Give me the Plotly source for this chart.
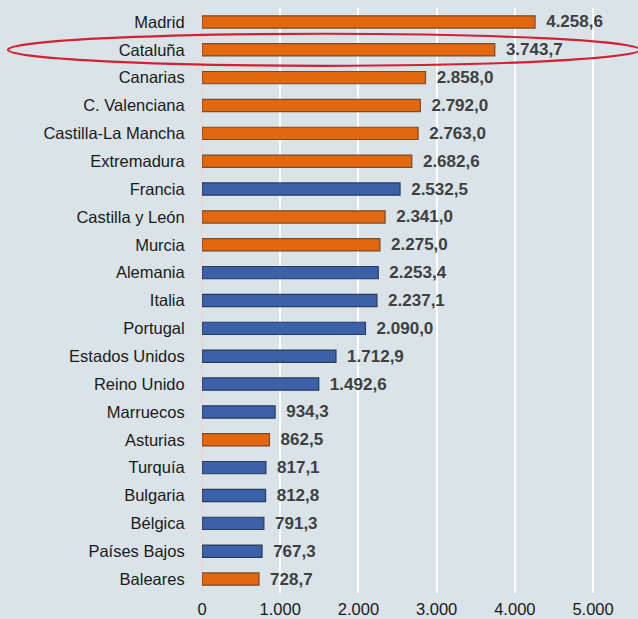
import plotly.graph_objects as go

categories = ["Madrid", "Cataluña", "Canarias", "C. Valenciana", "Castilla-La Mancha",
              "Extremadura", "Francia", "Castilla y León", "Murcia", "Alemania", "Italia",
              "Portugal", "Estados Unidos", "Reino Unido", "Marruecos", "Asturias",
              "Turquía", "Bulgaria", "Bélgica", "Países Bajos", "Baleares"]
values = [4258.6, 3743.7, 2858.0, 2792.0, 2763.0, 2682.6, 2532.5, 2341.0, 2275.0,
          2253.4, 2237.1, 2090.0, 1712.9, 1492.6, 934.3, 862.5, 817.1, 812.8, 791.3,
          767.3, 728.7]
kind = ["region", "region", "region", "region", "region", "region", "country", "region",
        "region", "country", "country", "country", "country", "country", "country",
        "region", "country", "country", "country", "country", "region"]
tick_vals = [0, 1000, 2000, 3000, 4000, 5000]
tick_text = ["0", "1.000", "2.000", "3.000", "4.000", "5.000"]
highlight = "Cataluña"

def fmt(v):
    s = f"{v:,.1f}"
    return s.replace(",", "X").replace(".", ",").replace("X", ".")

fill = {"region": "#e2670f", "country": "#3b62a8"}
edge = {"region": "#7a4a2a", "country": "#2a3a60"}

fig = go.Figure()
fig.add_trace(go.Bar(
    y=categories, x=values, orientation="h",
    width=0.44,
    marker=dict(color=[fill[k] for k in kind],
                line=dict(color=[edge[k] for k in kind], width=1.2)),
    text=[" \u2009" + fmt(v) for v in values],
    textposition="outside",
    constraintext="none",
    textfont=dict(family="Liberation Sans, Arial", size=17, color="#404040", weight="bold"),
    cliponaxis=False,
    hoverinfo="skip",
))

hi = categories.index(highlight)
fig.add_shape(type="circle", xref="paper", yref="y",
              x0=-0.445, x1=1.005, y0=hi - 0.575, y1=hi + 0.575,
              line=dict(color="#d42030", width=2.2), fillcolor="rgba(0,0,0,0)")

fig.update_layout(
    width=638, height=619,
    margin=dict(l=202, r=0, t=8, b=26),
    paper_bgcolor="#d9e3e8", plot_bgcolor="#d9e3e8",
    showlegend=False,
    font=dict(family="Liberation Sans, Arial", size=16.5, color="#1a1a1a"),
    xaxis=dict(range=[0, 5575], tickvals=tick_vals, ticktext=tick_text,
               showgrid=True, gridcolor="#ffffff", gridwidth=1.5,
               zeroline=True, zerolinecolor="#e8d8d8", zerolinewidth=1.5,
               ticks="outside", ticklen=1, tickcolor="rgba(0,0,0,0)",
               tickfont=dict(size=16.5), automargin=False),
    yaxis=dict(autorange="reversed", ticks="outside", ticklen=13,
               tickcolor="rgba(0,0,0,0)", tickfont=dict(size=16.5), automargin=False),
    bargap=0.56,
)

fig.write_html("out.html", config={"displayModeBar": False},
               post_script="document.body.style.margin='0';document.body.style.overflow='hidden';")
